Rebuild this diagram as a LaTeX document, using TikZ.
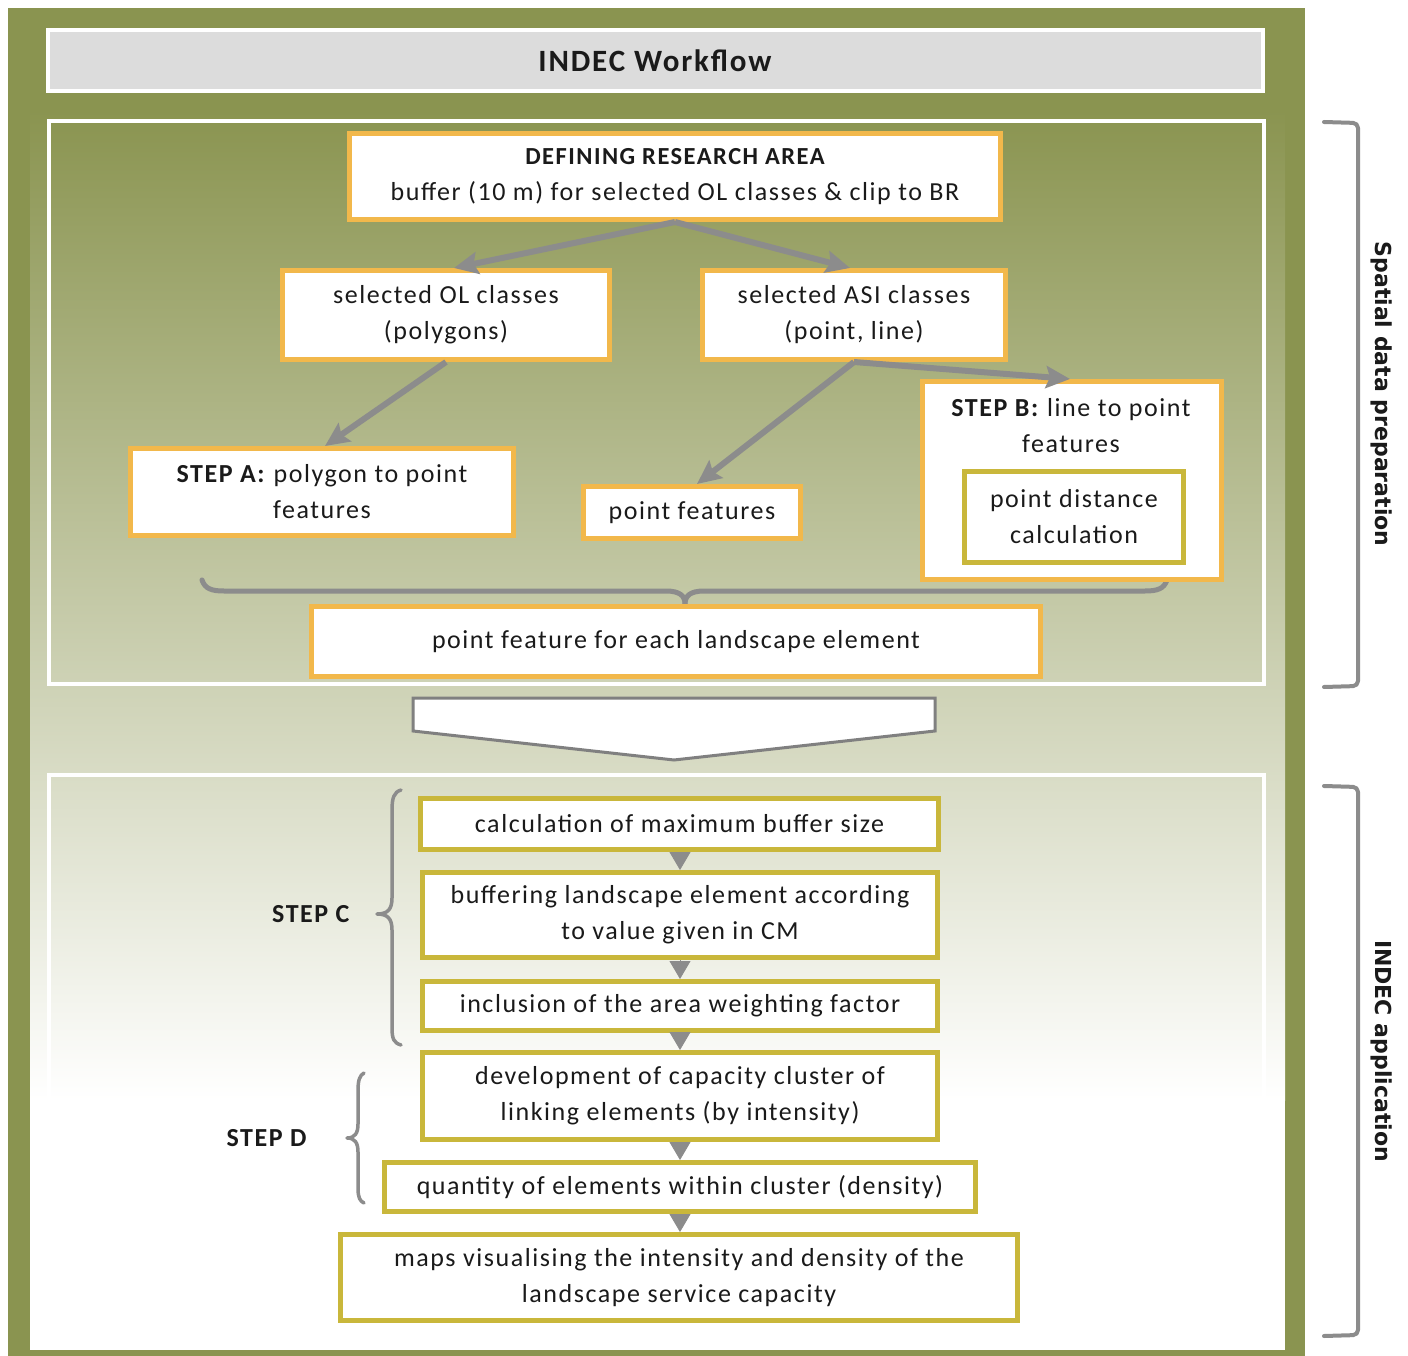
\documentclass[tikz,border=0pt]{standalone}
\usepackage{fontspec}
\setmainfont{Carlito}[LetterSpace=6]
\newfontfamily\vfont{DejaVu Sans}
\usetikzlibrary{arrows.meta,calc}
\definecolor{txt}{HTML}{1A1A1A}
\definecolor{orng}{HTML}{F2B84B}
\definecolor{olv}{HTML}{C9B73B}
\definecolor{agray}{HTML}{8C8C8C}
\definecolor{chevgray}{HTML}{808080}
\definecolor{titlegray}{HTML}{DCDCDC}
\definecolor{frameg}{HTML}{8A9450}
\begin{document}
\begin{tikzpicture}[x=1pt,y=-1pt,
  every node/.style={font=\fontsize{26}{36}\selectfont, text=txt},
  obox/.style={draw=orng, line width=5pt, fill=white, align=center, inner sep=0pt},
  ybox/.style={draw=olv, line width=5pt, fill=white, align=center, inner sep=0pt},
  garrow/.style={draw=agray, line width=6pt, -{Stealth[length=24pt,width=22pt,inset=4pt]}},
  tri/.style={draw=agray, fill=agray, line width=0.8pt, -{Triangle[length=18pt,width=21pt]}},
  bracegray/.style={draw=agray, line cap=round, line join=round},
  steplabel/.style={font=\bfseries\fontsize{26}{36}\selectfont, anchor=east},
  sidelabel/.style={rotate=-90, font=\vfont\bfseries\fontsize{22}{26}\selectfont, text=txt},
]
\useasboundingbox (0,0) rectangle (1408,1356);
% background
\fill[white] (0,0) rectangle (1408,1356);
\fill[frameg] (8,8) rectangle (1305,1356);
\shade[top color=frameg, bottom color=white] (30,110) rectangle (1285,1100);
\fill[white] (30,1099.5) rectangle (1285,1350);
% title
\node[draw=white, line width=4pt, fill=titlegray, minimum width=1215, minimum height=61,
      font=\bfseries\fontsize{31}{36}\selectfont] (title) at (655,61) {INDEC Workflow};
% panels
\draw[white, line width=4pt] (49,121) rectangle (1264,684);
\draw[white, line width=4pt] (49,775) rectangle (1264,1348);
% horizontal brace
\draw[bracegray, line width=5pt] (202,580) .. controls (205,589) and (212,591) .. (224,591) -- (666,591) .. controls (680,591) and (685,596) .. (685,604);
\draw[bracegray, line width=5pt] (1167,580) .. controls (1164,589) and (1157,591) .. (1145,591) -- (704,591) .. controls (690,591) and (685,596) .. (685,604);
% upper boxes
\node[obox, minimum width=651, minimum height=86] (def) at (675,176.5)
  {{\bfseries\fontsize{24.5}{36}\selectfont DEFINING RESEARCH AREA}\\buffer (10 m) for selected OL classes \& clip to BR};
\node[obox, minimum width=327, minimum height=89] (ol) at (446,315) {selected OL classes\\(polygons)};
\node[obox, minimum width=303, minimum height=89] (asi) at (854,315) {selected ASI classes\\(point, line)};
\node[obox, minimum width=383, minimum height=87] (stepa) at (322,492) {\textbf{STEP A:} polygon to point\\features};
\node[obox, minimum width=217, minimum height=52] (pf) at (692,512.5) {point features};
\node[obox, minimum width=299, minimum height=198] (stepb) at (1072,480.5) {};
\node[align=center] (stepbt) at (1071,426) {\textbf{STEP B:} line to point\\features};
\node[ybox, minimum width=219, minimum height=91] (pdc) at (1074,517) {point distance\\calculation};
\node[obox, minimum width=729, minimum height=70] (pfe) at (676,641.5) {point feature for each landscape element};
% arrows
\draw[garrow] (def.south) -- ($(ol.north)+(8,0)$);
\draw[garrow] (def.south) -- ($(asi.north)+(-4,0)$);
\draw[garrow] (ol.south) -- ($(stepa.north)+(3,0)$);
\draw[garrow] (asi.south) -- ($(pf.north)+(5,0)$);
\draw[garrow] (asi.south) -- ($(stepb.north)+(-2,0)$);
% chevron
\draw[draw=chevgray, line width=3pt, fill=white, line join=miter]
  (413,698) -- (935,698) -- (935,731) -- (674,760) -- (413,731) -- cycle;
% lower boxes
\node[ybox, minimum width=518, minimum height=51] (calc) at (679.5,824) {calculation of maximum buffer size};
\node[ybox, minimum width=515, minimum height=85] (buff) at (680,915) {buffering landscape element according\\to value given in CM};
\node[ybox, minimum width=515, minimum height=49] (incl) at (680,1006) {inclusion of the area weighting factor};
\node[ybox, minimum width=515, minimum height=87] (dev) at (680,1096) {development of capacity cluster of\\linking elements (by intensity)};
\node[ybox, minimum width=591, minimum height=49] (qty) at (680,1187) {quantity of elements within cluster (density)};
\node[ybox, minimum width=677, minimum height=86] (maps) at (679,1277.5) {maps visualising the intensity and density of the\\landscape service capacity};
\draw[tri] (buff.north |- calc.south) -- (buff.north);
\draw[tri] (buff.south) -- (incl.north);
\draw[tri] (incl.south) -- (dev.north);
\draw[tri] (dev.south) -- (qty.north);
\draw[tri] (qty.south) -- (qty.south |- maps.north);
% step labels and braces
\node[steplabel] (stepc) at (353,914) {STEP C};
\node[steplabel] (stepd) at (310,1138) {STEP D};
\draw[bracegray, line width=3.5pt] (401,790) .. controls (394,792) and (392,798) .. (392,810) -- (392,898) .. controls (392,909) and (388,914) .. (377,914) .. controls (388,914) and (392,919) .. (392,930) -- (392,1028) .. controls (392,1039) and (394,1043) .. (401,1045);
\draw[bracegray, line width=3.5pt] (364,1073) .. controls (360,1075) and (358,1080) .. (358,1090) -- (358,1124) .. controls (358,1133) and (355,1138) .. (347,1138) .. controls (355,1138) and (358,1143) .. (358,1152) -- (358,1188) .. controls (358,1198) and (360,1201) .. (364,1203);
% right brackets
\draw[bracegray, line width=4pt, rounded corners=5pt] (1324,122) -- (1358,123) -- (1358,686) -- (1324,687);
\draw[bracegray, line width=4pt, rounded corners=5pt] (1324,786) -- (1358,787) -- (1358,1335) -- (1324,1336);
\node[sidelabel] (sdp) at (1382,394) {Spatial data preparation};
\node[sidelabel] (app) at (1382,1051) {INDEC application};
\end{tikzpicture}
\end{document}
